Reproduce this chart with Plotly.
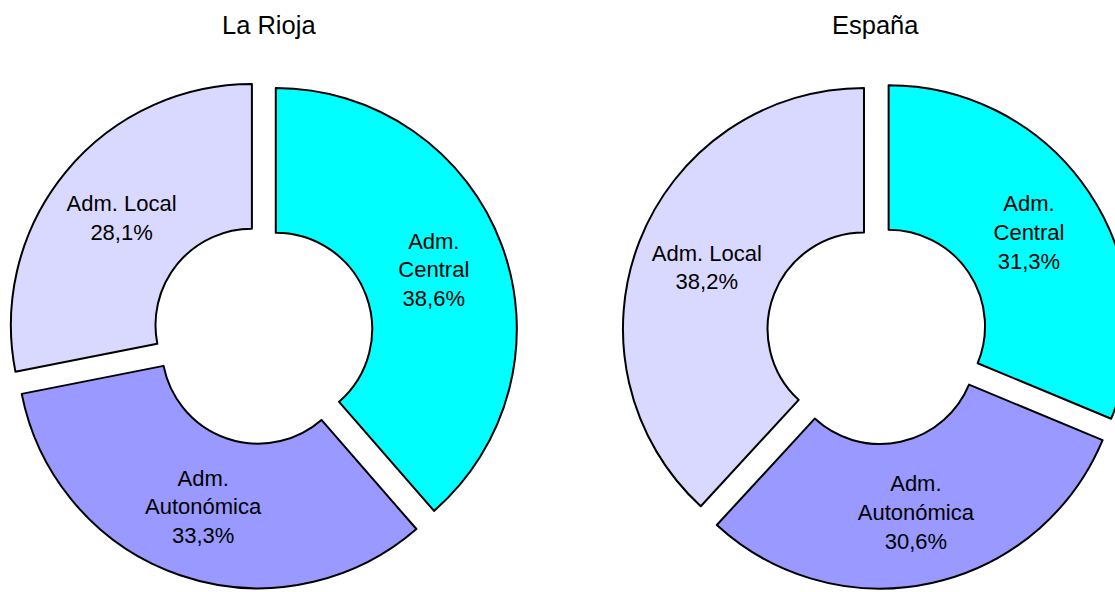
import plotly.graph_objects as go

# --- data ---
categories = ["Adm. Central", "Adm. Autonómica", "Adm. Local"]
labels_text = ["Adm.<br>Central", "Adm.<br>Autonómica", "Adm. Local"]
rioja_values = [38.6, 33.3, 28.1]
espana_values = [31.3, 30.6, 38.2]
chart_titles = ["La Rioja", "España"]

colors = ["#00FFFF", "#9999FF", "#D9D9FF"]
FONT = "Liberation Sans, Arial, Helvetica, sans-serif"

# figure is slightly wider than the window so the right donut is clipped as in the original
W, H = 1133, 592


def fmt(v):
    return f"{v:.1f}".replace(".", ",") + "%"


def donut(values, domx, domy):
    return go.Pie(
        labels=categories,
        values=values,
        text=[f"{t}<br>{fmt(v)}" for t, v in zip(labels_text, values)],
        textinfo="text",
        textposition="inside",
        insidetextorientation="horizontal",
        textfont=dict(family=FONT, size=22, color="black"),
        hole=0.4,
        pull=0.058,
        sort=False,
        direction="clockwise",
        rotation=0,
        marker=dict(colors=colors, line=dict(color="black", width=2)),
        domain=dict(x=domx, y=domy),
        showlegend=False,
        hoverinfo="label+percent",
    )


domy = [3 / H, 513 / H]
fig = go.Figure()
fig.add_trace(donut(rioja_values, [7.7 / W, 517.7 / W], domy))
fig.add_trace(donut(espana_values, [622 / W, 1132 / W], domy))

fig.update_layout(
    width=W,
    height=H,
    autosize=False,
    margin=dict(l=0, r=0, t=0, b=0),
    paper_bgcolor="white",
    plot_bgcolor="white",
    font=dict(family=FONT, color="black"),
    uniformtext=dict(minsize=22, mode="show"),
    annotations=[
        dict(text=chart_titles[0], x=269 / W, y=1 - 25 / H, xref="paper", yref="paper",
             showarrow=False, xanchor="center", yanchor="middle",
             font=dict(family=FONT, size=25.5, color="black")),
        dict(text=chart_titles[1], x=875 / W, y=1 - 25 / H, xref="paper", yref="paper",
             showarrow=False, xanchor="center", yanchor="middle",
             font=dict(family=FONT, size=25.5, color="black")),
    ],
)

fig.write_html(
    "out.html",
    config={"displayModeBar": False},
    post_script=(
        "document.body.style.margin='0';"
        "document.documentElement.style.overflow='hidden';"
        "document.body.style.overflow='hidden';"
    ),
)
